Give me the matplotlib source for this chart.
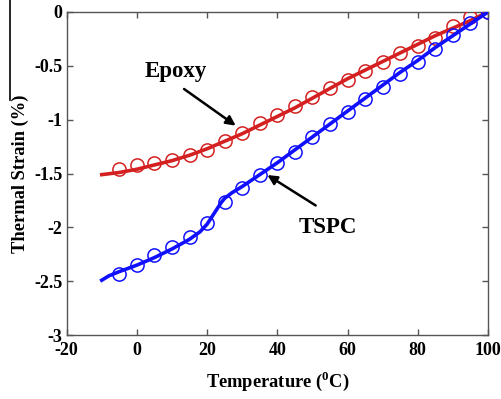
import matplotlib
matplotlib.use("Agg")
import matplotlib.pyplot as plt
from matplotlib.lines import Line2D

plt.rcParams['font.family'] = ['Liberation Serif', 'DejaVu Serif']
plt.rcParams['font.weight'] = 'bold'
plt.rcParams['mathtext.fontset'] = 'custom'
plt.rcParams['mathtext.rm'] = 'Liberation Serif:bold'
plt.rcParams['mathtext.bf'] = 'Liberation Serif:bold'

# Measured points (markers)
t_marks = [-5, 0, 5, 10, 15, 20, 25, 30, 35, 40, 45, 50, 55, 60, 65, 70, 75, 80, 85, 90, 95, 100]
epoxy_marks = [-1.46, -1.42, -1.40, -1.37, -1.33, -1.28, -1.20, -1.12, -1.03, -0.96, -0.87,
               -0.79, -0.71, -0.63, -0.55, -0.46, -0.38, -0.32, -0.24, -0.13, -0.05, 0.0]
tspc_marks = [-2.43, -2.35, -2.26, -2.18, -2.09, -1.96, -1.76, -1.63, -1.51, -1.40, -1.30,
              -1.16, -1.04, -0.93, -0.81, -0.70, -0.58, -0.46, -0.34, -0.21, -0.10, 0.0]

# Fitted curves (lines)
t_epoxy_line = [-10, -5, 0, 5, 10, 15, 20, 25, 30, 35, 40, 45, 50, 55, 60, 65, 70, 75, 80, 85, 90, 95, 100]
epoxy_line = [-1.51, -1.49, -1.46, -1.42, -1.38, -1.33, -1.27, -1.20, -1.13, -1.05, -0.97, -0.89,
              -0.80, -0.71, -0.62, -0.54, -0.46, -0.38, -0.30, -0.22, -0.15, -0.08, 0.0]
t_tspc_line = [-10, -8, -5, 0, 5, 10, 15, 18, 20, 22, 24, 25, 27, 30, 35, 40, 45, 50, 55, 60,
               65, 70, 75, 80, 85, 90, 95, 100]
tspc_line = [-2.49, -2.45, -2.41, -2.35, -2.28, -2.20, -2.11, -2.04, -1.97, -1.87, -1.77, -1.73,
             -1.68, -1.62, -1.51, -1.40, -1.28, -1.16, -1.04, -0.92, -0.80, -0.68, -0.56,
             -0.45, -0.33, -0.22, -0.11, 0.0]

x_ticks = [-20, 0, 20, 40, 60, 80, 100]
y_ticks = [-3, -2.5, -2, -1.5, -1, -0.5, 0]
y_ticklabels = ['-3', '-2.5', '-2', '-1.5', '-1', '-0.5', '0']

red = '#d42020'
blue = '#1010ff'

fig = plt.figure(figsize=(5.01, 3.99), dpi=100)
ax = fig.add_axes([0.133, 0.160, 0.841, 0.810])

ax.plot(t_epoxy_line, epoxy_line, '-', color=red, lw=2.6, zorder=3)
ax.plot(t_marks, epoxy_marks, 'o', mfc='none', mec=red, ms=9.5, mew=1.1, zorder=3)
ax.plot(t_tspc_line, tspc_line, '-', color=blue, lw=2.6, zorder=4)
ax.plot(t_marks, tspc_marks, 'o', mfc='none', mec=blue, ms=9.5, mew=1.1, zorder=4)

ax.set_xlim(-20, 100)
ax.set_ylim(-3, 0)
ax.set_xticks(x_ticks)
ax.set_yticks(y_ticks)
ax.set_yticklabels(y_ticklabels)
ax.set_xticklabels([str(v) for v in x_ticks])
ax.tick_params(direction='in', top=True, right=True, length=4, width=1,
               color='#555555', labelsize=13, pad=5)
ax.tick_params(axis='y', pad=3)
for lab in ax.get_xticklabels() + ax.get_yticklabels():
    lab.set_fontweight('bold')
for s in ax.spines.values():
    s.set_color('#555555')
    s.set_linewidth(1.0)

ax.set_xlabel('Temperature ($^{0}$C)', fontsize=13.3, fontweight='bold', labelpad=8)
ax.set_ylabel('Thermal Strain (%)', fontsize=13.3, fontweight='bold', labelpad=4)

ax.annotate('', xy=(28.8, -1.07), xytext=(12.8, -0.70),
            arrowprops=dict(arrowstyle='-|>', color='black', lw=1.8, mutation_scale=14),
            zorder=5)
ax.text(11, -0.65, 'Epoxy', fontsize=16.5, fontweight='bold', ha='center', va='bottom')
ax.annotate('', xy=(36.5, -1.50), xytext=(51.6, -1.81),
            arrowprops=dict(arrowstyle='-|>', color='black', lw=1.8, mutation_scale=14),
            zorder=5)
ax.text(54.4, -1.90, 'TSPC', fontsize=16.5, fontweight='bold', ha='center', va='top')

fig.add_artist(Line2D([0.019, 0.019], [1.0, 0.75], transform=fig.transFigure,
                      color='black', lw=1.2))

fig.savefig('out.png', dpi=100)
